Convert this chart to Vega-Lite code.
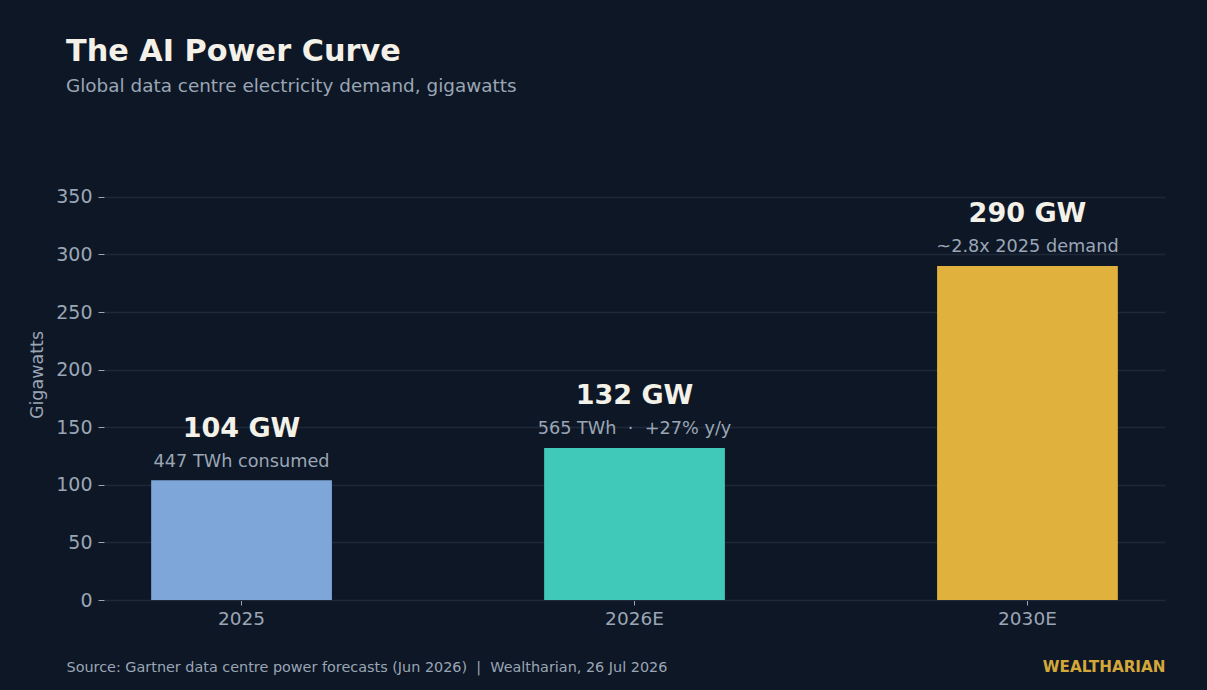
{
  "$schema": "https://vega.github.io/schema/vega-lite/v6.json",
  "width": 1061,
  "height": 451,
  "autosize": {"type": "none"},
  "padding": {"left": 104, "top": 149, "right": 42, "bottom": 90},
  "background": "#0e1726",
  "config": {"font": "DejaVu Sans", "view": {"stroke": null}},
  "title": {
    "text": "The AI Power Curve",
    "subtitle": "Global data centre electricity demand, gigawatts",
    "anchor": "start",
    "frame": "group",
    "dx": -38,
    "offset": 54,
    "font": "DejaVu Sans",
    "fontSize": 30.3,
    "fontWeight": "bold",
    "color": "#f4f1e8",
    "subtitleFont": "DejaVu Sans",
    "subtitleFontSize": 18.4,
    "subtitleColor": "#9aa6b5",
    "subtitlePadding": 9
  },
  "data": {
    "values": [
      {"period": "2025", "gw": 104, "label": "104 GW", "note": "447 TWh consumed"},
      {"period": "2026E", "gw": 132, "label": "132 GW", "note": "565 TWh\u00a0\u00a0·\u00a0\u00a0+27% y/y"},
      {"period": "2030E", "gw": 290, "label": "290 GW", "note": "~2.8x 2025 demand"}
    ]
  },
  "encoding": {
    "x": {
      "field": "period",
      "type": "nominal",
      "sort": null,
      "scale": {"paddingInner": 0.54, "paddingOuter": 0.12},
      "axis": {
        "title": "Source: Gartner data centre power forecasts (Jun 2026)\u00a0\u00a0|\u00a0\u00a0Wealtharian, 26 Jul 2026",
        "titleFontSize": 14.4,
        "titleFontWeight": "normal",
        "titleColor": "#9aa6b5",
        "titleAnchor": "start",
        "titleAlign": "left",
        "titleBaseline": "alphabetic",
        "titleX": -38,
        "titleY": 71,
        "labelAngle": 0,
        "labelFontSize": 18.5,
        "labelColor": "#9aa6b5",
        "labelPadding": 4,
        "tickSize": 5,
        "tickColor": "#9aa6b5",
        "domainColor": "#1e2839",
        "grid": false
      }
    }
  },
  "layer": [
    {
      "mark": {"type": "bar"},
      "encoding": {
        "y": {
          "field": "gw",
          "type": "quantitative",
          "scale": {"domain": [0, 391.5], "nice": false},
          "axis": {
            "title": "Gigawatts",
            "titleFontSize": 17.5,
            "titleFontWeight": "normal",
            "titleColor": "#9aa6b5",
            "titlePadding": 9,
            "values": [0, 50, 100, 150, 200, 250, 300, 350],
            "labelFontSize": 19,
            "labelColor": "#9aa6b5",
            "labelPadding": 6,
            "tickSize": 6,
            "tickColor": "#9aa6b5",
            "domain": false,
            "grid": true,
            "gridColor": "#1e2839",
            "gridWidth": 1.5
          }
        },
        "color": {
          "field": "period",
          "type": "nominal",
          "sort": null,
          "scale": {"domain": ["2025", "2026E", "2030E"], "range": ["#7fa6d9", "#40c9b9", "#e0b23d"]},
          "legend": null
        }
      }
    },
    {
      "mark": {"type": "text", "fontSize": 27, "fontWeight": "bold", "color": "#f4f1e8", "dy": -43.5, "baseline": "alphabetic", "align": "center"},
      "encoding": {
        "y": {
          "field": "gw",
          "type": "quantitative",
          "axis": {
            "orient": "right",
            "title": "WEALTHARIAN",
            "titleAngle": 0,
            "titleAlign": "right",
            "titleBaseline": "alphabetic",
            "titleX": 0,
            "titleY": 522,
            "titleFontSize": 15.2,
            "titleFontWeight": "bold",
            "titleColor": "#d4a838",
            "labels": false,
            "ticks": false,
            "domain": false,
            "grid": false
          }
        },
        "text": {"field": "label"}
      }
    },
    {
      "mark": {"type": "text", "fontSize": 17.7, "color": "#9aa6b5", "dy": -13.5, "baseline": "alphabetic", "align": "center"},
      "encoding": {
        "y": {"field": "gw", "type": "quantitative", "axis": null},
        "text": {"field": "note"}
      }
    }
  ],
  "resolve": {"axis": {"y": "independent"}}
}
